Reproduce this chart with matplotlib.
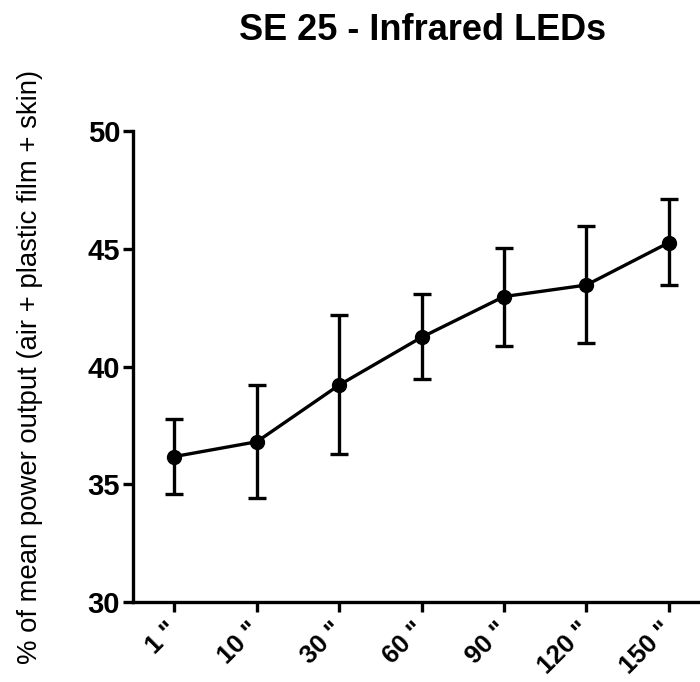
import matplotlib
matplotlib.use("Agg")
import matplotlib.pyplot as plt
import matplotlib.transforms as mtransforms

plt.rcParams['font.family'] = ['Liberation Sans', 'DejaVu Sans']

labels = ['1 "', '10 "', '30 "', '60 "', '90 "', '120 "', '150 "']
means = [36.18, 36.81, 39.22, 41.25, 42.98, 43.47, 45.27]
upper = [37.78, 39.22, 42.20, 43.09, 45.06, 45.99, 47.13]
lower = [34.58, 34.43, 36.28, 39.46, 40.89, 41.02, 43.47]

x = list(range(len(labels)))
err_lo = [m - l for m, l in zip(means, lower)]
err_hi = [u - m for m, u in zip(means, upper)]

fig = plt.figure(figsize=(7, 6.82), dpi=100)
ax = fig.add_axes([0.1904, 0.1174, 0.8096, 0.6899])

ax.errorbar(x, means, yerr=[err_lo, err_hi], color='black', lw=2.4,
            marker='o', markersize=10, capsize=6.5, capthick=2.4, elinewidth=2.4)

ax.set_xlim(-0.5, 6.38)
ax.set_ylim(30, 50)
ax.set_yticks([30, 35, 40, 45, 50])
ax.set_xticks(x)

ax.spines['top'].set_visible(False)
ax.spines['right'].set_visible(False)
ax.spines['left'].set_linewidth(2.4)
ax.spines['bottom'].set_linewidth(2.4)
ax.tick_params(axis='y', length=7.5, width=2.4, pad=2)
ax.tick_params(axis='x', length=7.5, width=2.4, pad=4)

ax.set_xticklabels(labels, rotation=45, ha='right', rotation_mode='anchor',
                   fontsize=18.5, fontweight='bold')
# nudge the slanted labels a little to the left, like the original
shift = mtransforms.ScaledTranslation(-9 / 100, 0, fig.dpi_scale_trans)
for t in ax.get_xticklabels():
    t.set_transform(t.get_transform() + shift)
for t in ax.get_yticklabels():
    t.set_fontsize(21)
    t.set_fontweight('bold')

ax.set_ylabel('% of mean power output (air + plastic film + skin)', fontsize=19.8)
ax.yaxis.set_label_coords(-0.16, 0.5)
fig.text(0.603, 0.956, 'SE 25 - Infrared LEDs', ha='center', va='center',
         fontsize=26, fontweight='bold')

fig.savefig('out.png', dpi=100)
